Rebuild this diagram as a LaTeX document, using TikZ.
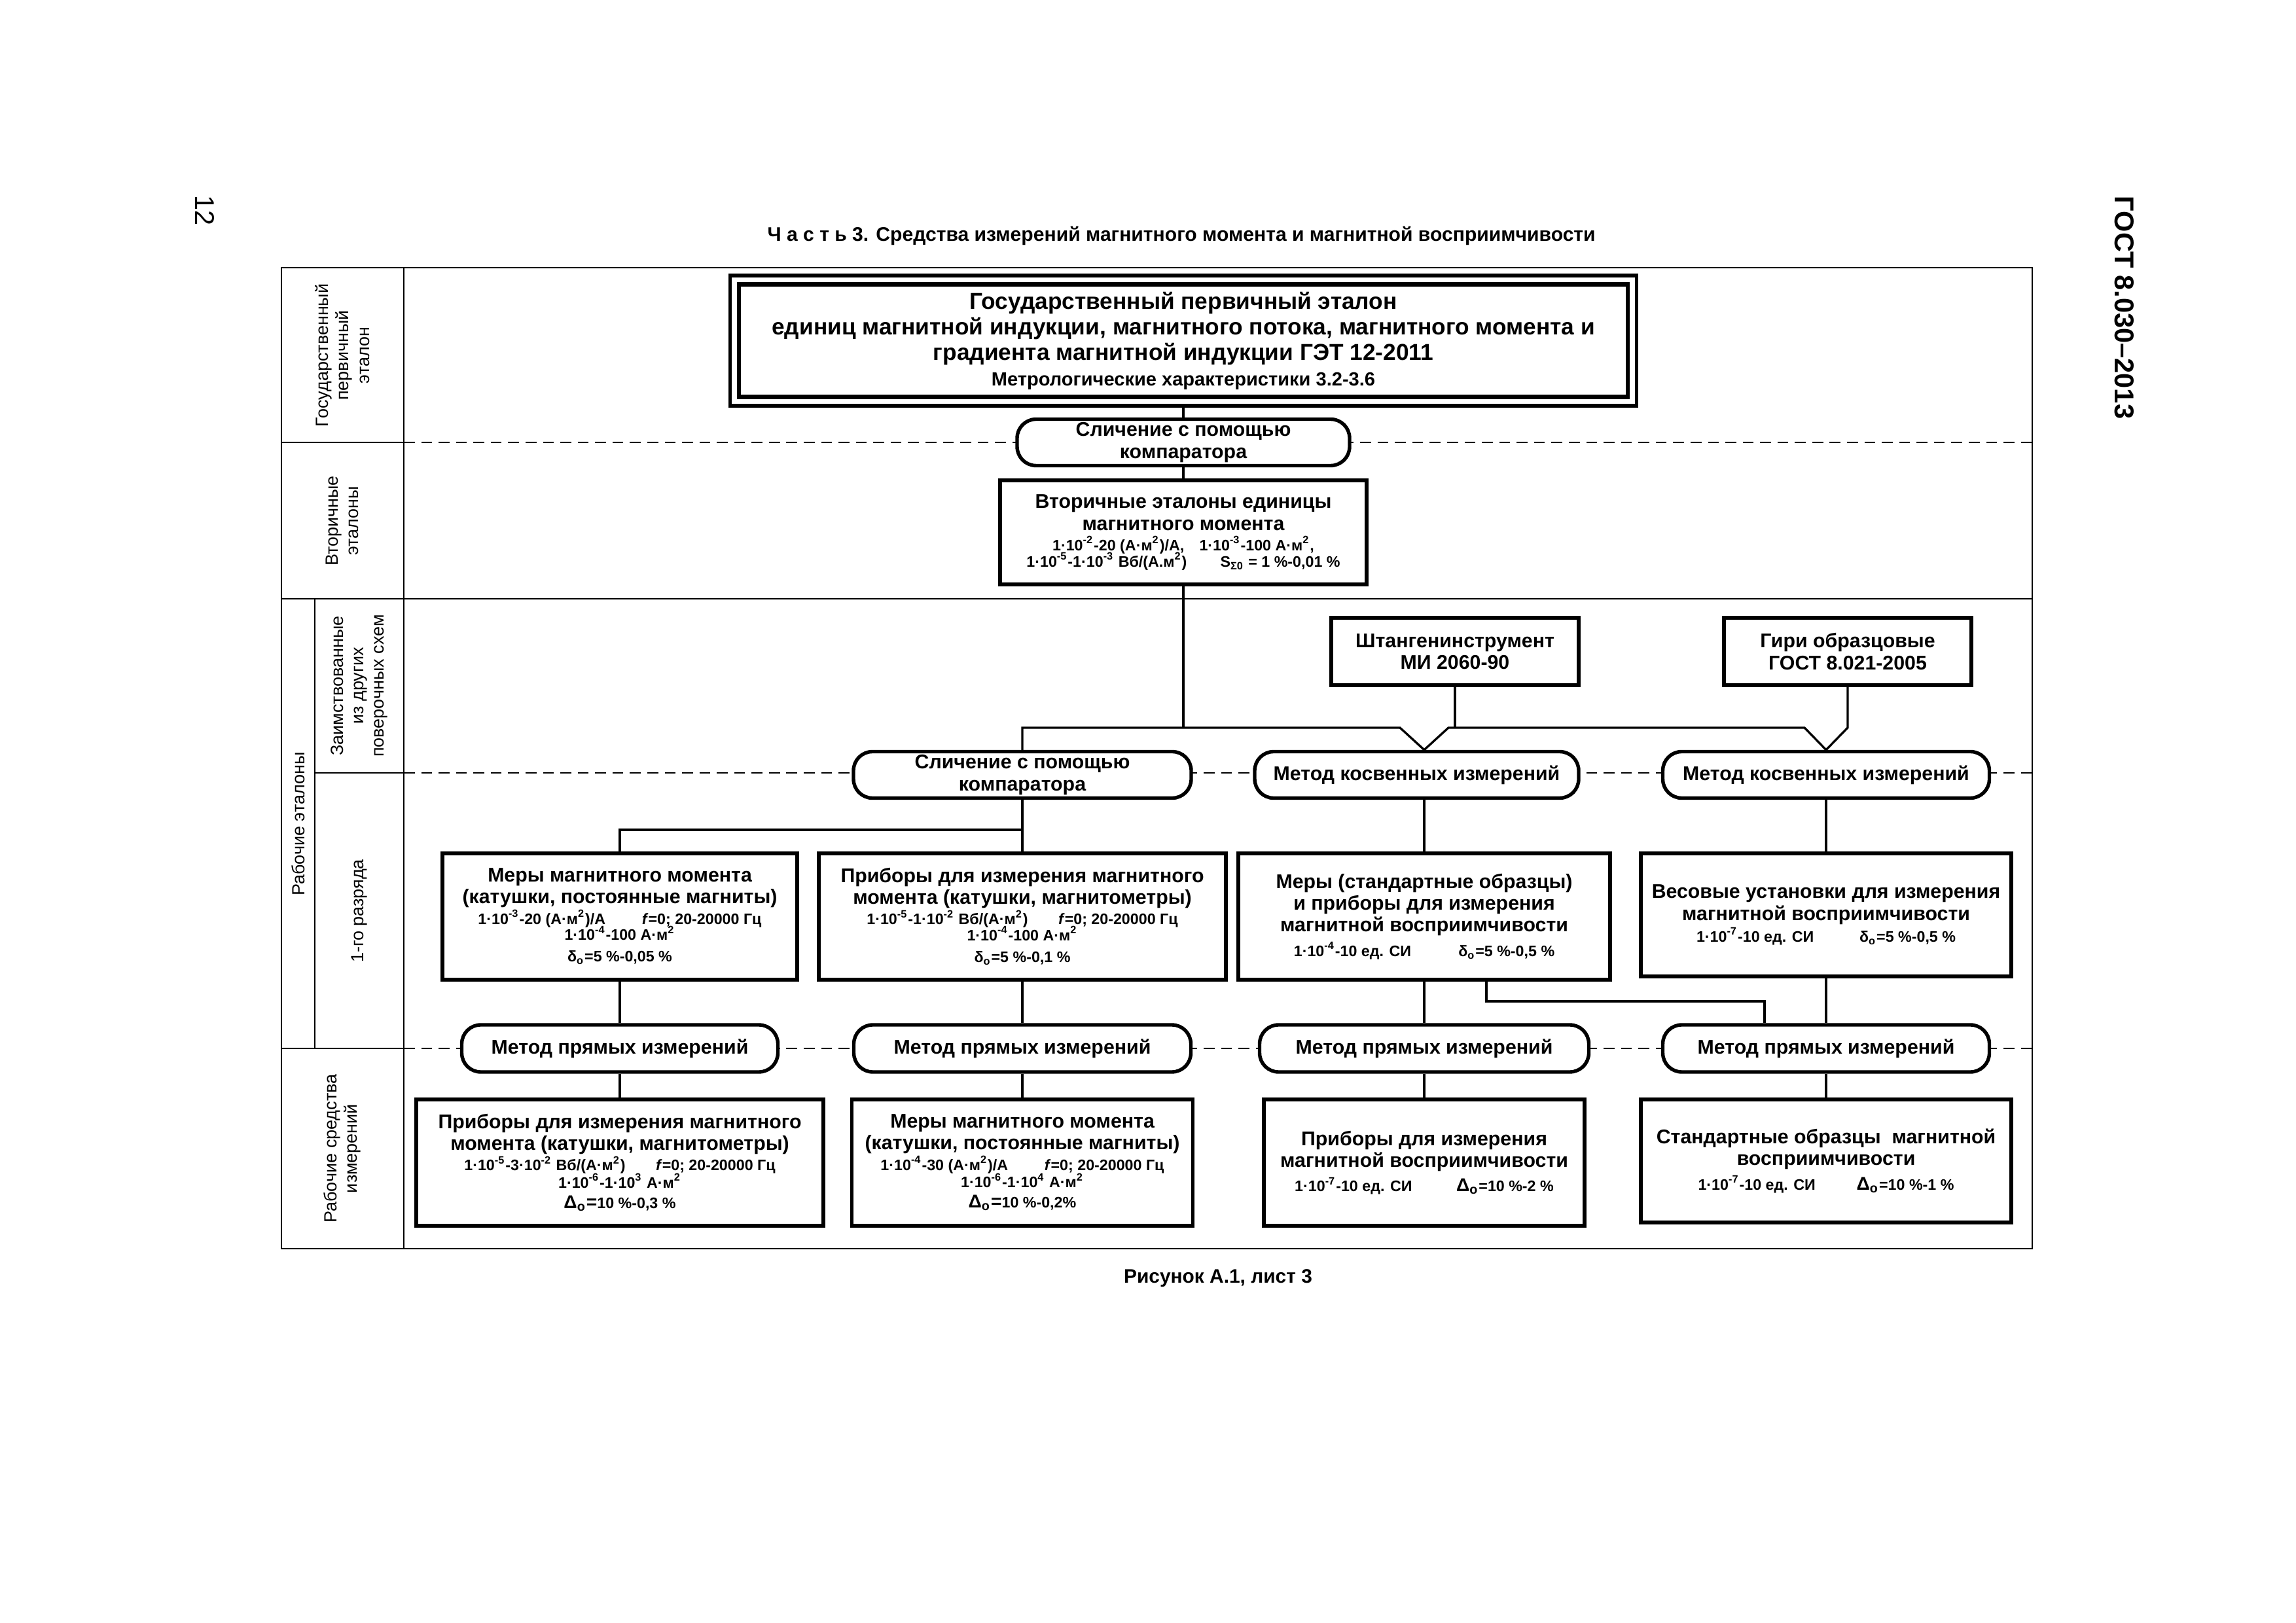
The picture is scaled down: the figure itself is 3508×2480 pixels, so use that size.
\documentclass[tikz,border=0pt]{standalone}
\usepackage{fontspec}
\setmainfont{Liberation Sans}
\usetikzlibrary{calc}
\newcommand\szT{\fontsize{8.5}{9.4}\selectfont}
\newcommand\szM{\fontsize{7.3}{8}\selectfont}
\newcommand\szS{\fontsize{5.6}{5.9}\selectfont}
\newcommand\szD{\fontsize{6.8}{7}\selectfont}
\newcommand\szL{\fontsize{6.5}{7.5}\selectfont}
\newcommand\sups[1]{\textsuperscript{#1}}
\newcommand\subs[1]{\textsubscript{#1}}
\begin{document}
\begin{tikzpicture}[x=0.08467mm,y=-0.08467mm,
  box/.style={draw, fill=white, line width=1.3pt, inner sep=0pt, align=center, font=\szM\bfseries},
  rbox/.style={box, rounded corners=7pt},
  sz/.style 2 args={minimum width=#1*0.2409pt, minimum height=#2*0.2409pt},
  conn/.style={line width=0.8pt},
  grid/.style={line width=0.5pt},
  rowline/.style={line width=0.6pt, dash pattern=on 4pt off 2.4pt},
  lbl/.style={rotate=90, align=center, font=\szL, inner sep=0pt}]
\useasboundingbox (0,0) rectangle (3508,2480);

% page header
\node[rotate=-90, font=\fontsize{10}{12}\selectfont, inner sep=0pt] (pnum) at (313,322) {12};
\node[rotate=-90, font=\fontsize{10}{12}\selectfont\bfseries, inner sep=0pt] (gost) at (3246,470) {ГОСТ 8.030–2013};
\node[font=\fontsize{7.25}{8}\selectfont\bfseries, inner sep=0pt] (title) at (1805,360) {Ч а с т ь 3. Средства измерений магнитного момента и магнитной восприимчивости};
\node[font=\fontsize{7.2}{8}\selectfont\bfseries, inner sep=0pt] (caption) at (1861,1953) {Рисунок А.1, лист 3};

% table grid
\draw[grid] (430,409) rectangle (3105,1908);
\draw[grid] (617,409) -- (617,1908);
\draw[grid] (481,915) -- (481,1602);
\draw[grid] (430,676) -- (617,676);
\draw[grid] (430,915) -- (3105,915);
\draw[grid] (481,1181) -- (617,1181);
\draw[grid] (430,1602) -- (617,1602);
\draw[rowline] (617,676) -- (3105,676);
\draw[rowline] (617,1181) -- (3105,1181);
\draw[rowline] (617,1602) -- (3105,1602);

% row labels
\node[lbl] (l1) at (523,543) {Государственный\\первичный\\эталон};
\node[lbl] (l2) at (523,796) {Вторичные\\эталоны};
\node[lbl] (l3) at (456,1259) {Рабочие эталоны};
\node[lbl] (l4) at (549,1048) {Заимствованные\\из других\\поверочных схем};
\node[lbl] (l5) at (549,1392) {1-го разряда};
\node[lbl] (l6) at (523,1755) {Рабочие средства\\измерений};

% main standard
\node[draw, fill=white, line width=1.3pt, sz={1385}{199}] (mainout) at (1808,520.5) {};
\node[box, line width=1.5pt, sz={1358}{172}, font=\szT\bfseries] (main) at (1808,520.5)
 {Государственный первичный эталон\\
  единиц магнитной индукции, магнитного потока, магнитного момента и\\
  градиента магнитной индукции ГЭТ 12-2011\\
  {\fontsize{7}{7.5}\selectfont Метрологические характеристики 3.2-3.6}};

\node[rbox, sz={508}{71}] (cmp1) at (1808,676) {Сличение с помощью\\компаратора};

\node[box, sz={560}{159}] (sec) at (1808,813.5)
 {Вторичные эталоны единицы\\
  магнитного момента\\[-0.5pt]
  {\szS 1·10\sups{-2}-20 (А·м\sups{2})/А,\hspace{1em}1·10\sups{-3}-100 А·м\sups{2},}\\[-2pt]
  {\szS 1·10\sups{-5}-1·10\sups{-3} Вб/(А.м\sups{2})\hspace{2.2em}S\subs{Σ0} = 1 \%-0,01 \%}};

\node[box, sz={378}{103}] (shtang) at (2223,995.5) {Штангенинструмент\\МИ 2060-90};
\node[box, sz={378}{103}] (giri) at (2823,995.5) {Гири образцовые\\ГОСТ 8.021-2005};

\node[rbox, sz={516}{71}] (cmp2) at (1562,1184) {Сличение с помощью\\компаратора};
\node[rbox, sz={495}{71}] (kos1) at (2164.5,1184) {Метод косвенных измерений};
\node[rbox, sz={499}{71}] (kos2) at (2790,1184) {Метод косвенных измерений};

\node[box, sz={542}{193}] (b1) at (947,1400.5)
 {Меры магнитного момента\\
  (катушки, постоянные магниты)\\[-0.5pt]
  {\szS 1·10\sups{-3}-20 (А·м\sups{2})/А\hspace{2.4em}\textit{f}=0; 20-20000 Гц}\\[-2.1pt]
  {\szS 1·10\sups{-4}-100 А·м\sups{2}}\\
  {\szS δ\subs{о}=5 \%-0,05 \%}};
\node[box, sz={622}{193}] (b2) at (1562,1400.5)
 {Приборы для измерения магнитного\\
  момента (катушки, магнитометры)\\[-0.5pt]
  {\szS 1·10\sups{-5}-1·10\sups{-2} Вб/(А·м\sups{2})\hspace{2em}\textit{f}=0; 20-20000 Гц}\\[-2.1pt]
  {\szS 1·10\sups{-4}-100 А·м\sups{2}}\\
  {\szS δ\subs{о}=5 \%-0,1 \%}};
\node[box, sz={568}{193}] (b3) at (2176,1400.5)
 {Меры (стандартные образцы)\\
  и приборы для измерения\\
  магнитной восприимчивости\\[1pt]
  {\szS 1·10\sups{-4}-10 ед. СИ\hspace{3.1em}δ\subs{о}=5 \%-0,5 \%}};
\node[box, sz={566}{188}] (b4) at (2790,1398)
 {Весовые установки для измерения\\
  магнитной восприимчивости\\
  {\szS 1·10\sups{-7}-10 ед. СИ\hspace{3em}δ\subs{о}=5 \%-0,5 \%}};

\node[rbox, sz={483}{72}] (r5) at (947,1602) {Метод прямых измерений};
\node[rbox, sz={515}{72}] (r6) at (1562,1602) {Метод прямых измерений};
\node[rbox, sz={503}{72}] (r7) at (2176,1602) {Метод прямых измерений};
\node[rbox, sz={499}{72}] (r8) at (2790,1602) {Метод прямых измерений};

\node[box, sz={622}{193}] (c1) at (947,1776.5)
 {Приборы для измерения магнитного\\
  момента (катушки, магнитометры)\\[-0.5pt]
  {\szS 1·10\sups{-5}-3·10\sups{-2} Вб/(А·м\sups{2})\hspace{2em}\textit{f}=0; 20-20000 Гц}\\[-1.6pt]
  {\szS 1·10\sups{-6}-1·10\sups{3} А·м\sups{2}}\\[-0.5pt]
  {\szD Δ\subs{о}=\szS 10 \%-0,3 \%}};
\node[box, sz={521}{193}] (c2) at (1562,1776.5)
 {Меры магнитного момента\\
  (катушки, постоянные магниты)\\[-0.5pt]
  {\szS 1·10\sups{-4}-30 (А·м\sups{2})/А\hspace{2.4em}\textit{f}=0; 20-20000 Гц}\\[-1.6pt]
  {\szS 1·10\sups{-6}-1·10\sups{4} А·м\sups{2}}\\[-0.5pt]
  {\szD Δ\subs{о}=\szS 10 \%-0,2\%}};
\node[box, sz={490}{193}] (c3) at (2176,1776.5)
 {Приборы для измерения\\
  магнитной восприимчивости\\[1pt]
  {\szS 1·10\sups{-7}-10 ед. СИ\hspace{2.9em}{\szD Δ\subs{о}}=10 \%-2 \%}};
\node[box, sz={566}{188}] (c4) at (2790,1774)
 {Стандартные образцы\ \ магнитной\\
  восприимчивости\\[1pt]
  {\szS 1·10\sups{-7}-10 ед. СИ\hspace{2.7em}{\szD Δ\subs{о}}=10 \%-1 \%}};

% connectors
\coordinate (bus) at (0,1112);
\coordinate (bus2) at (0,1268);
\coordinate (jog) at (0,1530);
\draw[conn] (cmp1.north |- mainout.south) -- (cmp1.north);
\draw[conn] (cmp1.south) -- (sec.north);
\draw[conn] (sec.south) -- (sec.south |- bus);
\draw[conn] (cmp2.north) -- (cmp2.north |- bus)
  -- ($(b3.north |- bus)+(-37,0)$) -- (b3.north |- kos1.north) -- ($(b3.north |- bus)+(37,0)$)
  -- ($(kos2.north |- bus)+(-33,0)$) -- (kos2.north) -- ($(kos2.north |- bus)+(33,0)$)
  -- (giri.south);
\draw[conn] (shtang.south) -- (shtang.south |- bus);
\draw[conn] (cmp2.south) -- (cmp2.south |- bus2);
\draw[conn] (b1.north) -- (b1.north |- bus2) -- (b2.north |- bus2) -- (b2.north);
\draw[conn] (b3.north |- kos1.south) -- (b3.north);
\draw[conn] (kos2.south) -- (b4.north);
\draw[conn] (b1.south) -- (r5.north);
\draw[conn] (b2.south) -- (r6.north);
\draw[conn] (b3.south) -- (r7.north);
\draw[conn] (b4.south) -- (r8.north);
\draw[conn] (r5.south) -- (c1.north);
\draw[conn] (r6.south) -- (c2.north);
\draw[conn] (r7.south) -- (c3.north);
\draw[conn] (r8.south) -- (c4.north);
\coordinate (e1) at ($(b3.south)+(95,0)$);
\coordinate (e2) at ($(r8.north)+(-94,0)$);
\draw[conn] (e1) -- (e1 |- jog) -- (e2 |- jog) -- (e2);
\end{tikzpicture}
\end{document}
